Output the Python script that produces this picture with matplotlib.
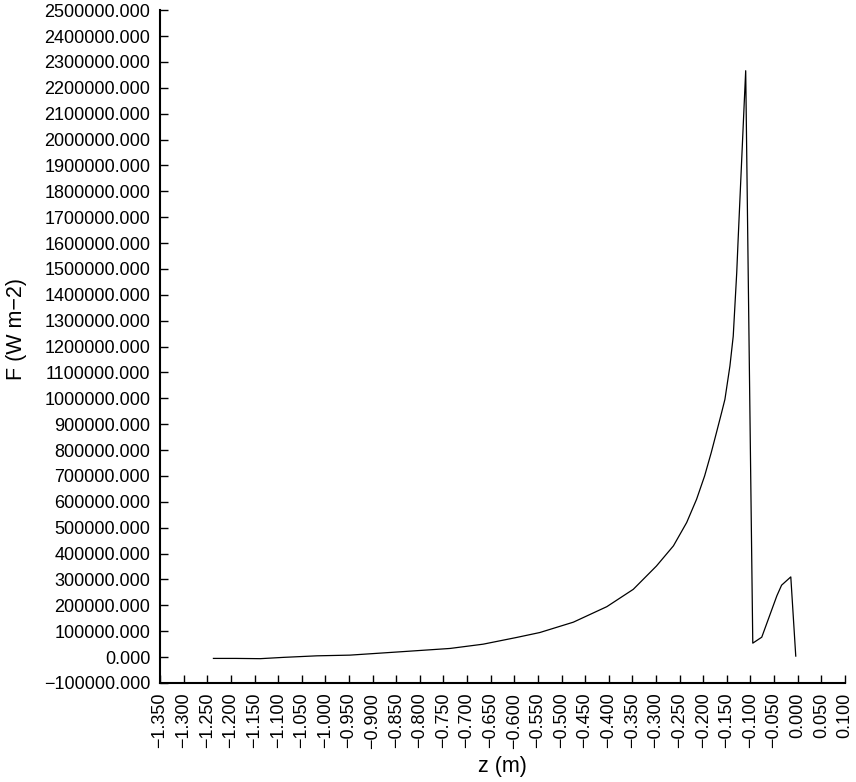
import numpy as np
import matplotlib
matplotlib.use("Agg")
import matplotlib.pyplot as plt
from matplotlib.ticker import FixedLocator, FuncFormatter

plt.rcParams['font.family'] = ['Liberation Sans', 'DejaVu Sans']

# Heat flux profile along depth
z = [-1.237, -1.190, -1.138, -1.089, -1.018, -0.948, -0.842, -0.736, -0.666,
     -0.595, -0.546, -0.475, -0.404, -0.348, -0.299, -0.263, -0.235, -0.214,
     -0.197, -0.183, -0.172, -0.161, -0.154, -0.1434, -0.1364, -0.1329, -0.129,
     -0.126, -0.113, -0.110, -0.095, -0.076, -0.044, -0.034, -0.0145, -0.004]
F = [-5000, -5000, -6000, -1000, 5000, 7700, 20500, 33500, 50000,
     76000, 95000, 135000, 195000, 262000, 352000, 430000, 520000, 610000,
     700000, 790000, 867000, 945000, 996000, 1125000, 1240000, 1356000, 1485000,
     1614000, 2146000, 2266000, 54000, 77000, 237000, 278000, 310000, 4000]

x_ticks = np.round(np.arange(-1.35, 0.1001, 0.05), 3)
y_ticks = np.arange(-100000, 2500001, 100000)

fig = plt.figure(figsize=(8.56, 7.82), dpi=100)
ax = fig.add_axes([0.187, 0.1266, 0.8, 0.8604])

ax.plot(z, F, color='black', lw=0.9)

ax.set_xlim(-1.35, 0.1)
ax.set_ylim(-100000, 2500000)

ax.xaxis.set_major_locator(FixedLocator(x_ticks))
ax.yaxis.set_major_locator(FixedLocator(y_ticks))

def fmt(v, pos):
    s = f"{v:.3f}"
    if s.startswith('-'):
        if float(s) == 0:
            s = s[1:]
        else:
            s = '\u2212' + s[1:]
    return s

ax.xaxis.set_major_formatter(FuncFormatter(fmt))
ax.yaxis.set_major_formatter(FuncFormatter(fmt))

for lab in ax.get_xticklabels():
    lab.set_rotation(90)

ax.tick_params(axis='both', direction='in', length=6, width=1, labelsize=13,
               colors='black', pad=7)

for s in ['top', 'right']:
    ax.spines[s].set_visible(False)
for s in ['left', 'bottom']:
    ax.spines[s].set_linewidth(1.5)

ax.set_xlabel('z (m)', fontsize=15.5, labelpad=5)
ax.set_ylabel('F (W m\u22122)', fontsize=15.5, labelpad=10)
ax.yaxis.set_label_coords(-0.195, 0.526)

fig.savefig('out.png', dpi=100)
